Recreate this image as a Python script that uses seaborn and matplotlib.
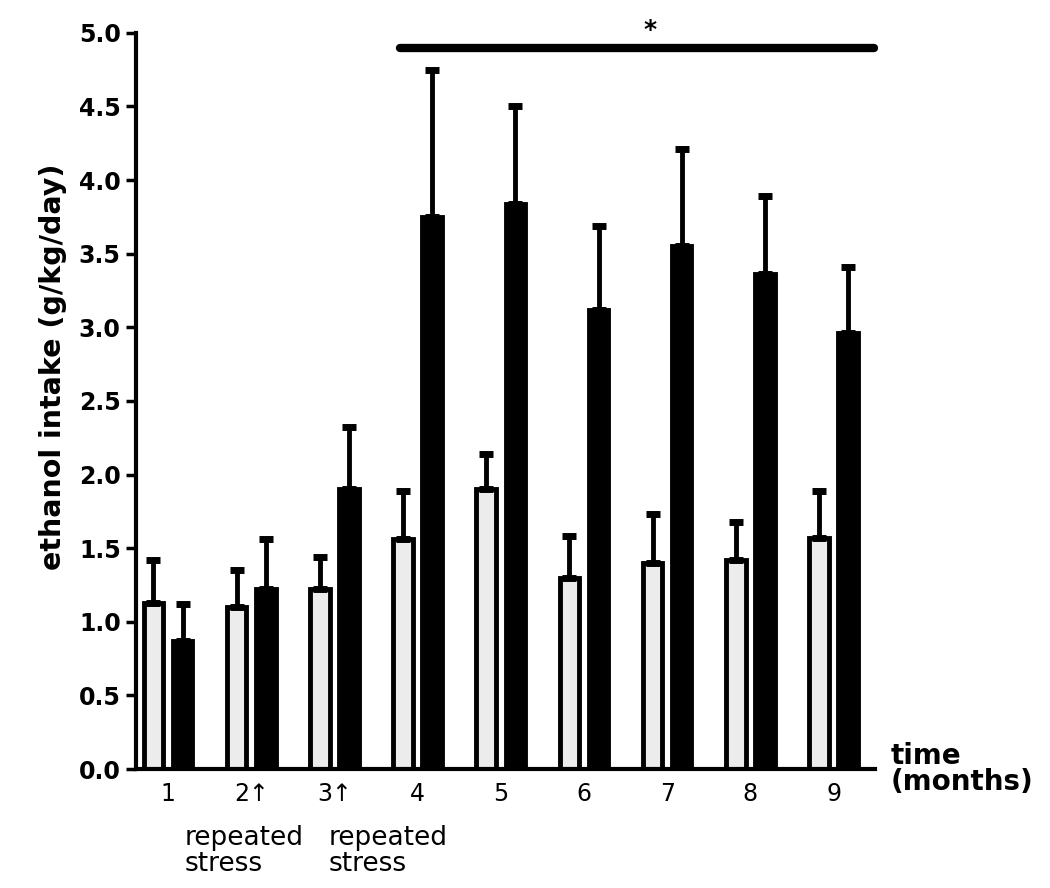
import matplotlib
matplotlib.use("Agg")
import matplotlib.pyplot as plt
import seaborn as sns
import pandas as pd
import numpy as np

months = ["1", "2\u2191", "3\u2191", "4", "5", "6", "7", "8", "9"]
control_mean = [1.13, 1.10, 1.22, 1.56, 1.90, 1.30, 1.40, 1.42, 1.57]
control_top = [1.42, 1.35, 1.44, 1.89, 2.14, 1.58, 1.73, 1.68, 1.89]
stress_mean = [0.87, 1.22, 1.90, 3.75, 3.84, 3.12, 3.55, 3.36, 2.96]
stress_top = [1.12, 1.56, 2.32, 4.75, 4.50, 3.69, 4.21, 3.89, 3.41]
groups = ["control", "stress"]
yticks = [0.0, 0.5, 1.0, 1.5, 2.0, 2.5, 3.0, 3.5, 4.0, 4.5, 5.0]

sns.set_style("white")
plt.rcParams['font.family'] = ['DejaVu Sans']
for k in ["text.color", "axes.labelcolor", "xtick.color", "ytick.color"]:
    plt.rcParams[k] = "black"

df = pd.DataFrame({
    "month": months * 2,
    "group": [groups[0]] * len(months) + [groups[1]] * len(months),
    "value": control_mean + stress_mean,
})

fig = plt.figure(figsize=(10.5, 8.88), dpi=100)
ax = fig.add_axes([0.1295, 0.134, 0.704, 0.829])

sns.barplot(data=df, x="month", y="value", hue="group", order=months,
            hue_order=groups, palette={"control": "#ececec", "stress": "black"},
            width=0.7, gap=0.33, errorbar=None, edgecolor="black",
            linewidth=3.5, legend=False, ax=ax)

tops = control_top + stress_top
means = control_mean + stress_mean
for p, m, t in zip(ax.patches[:len(means)], means, tops):
    cx = p.get_x() + p.get_width() / 2
    ax.errorbar([cx], [m], yerr=[[0], [t - m]], fmt="none", ecolor="black",
                elinewidth=3.5, capsize=5, capthick=5, zorder=1)

ax.set_ylim(0, 5.0)
ax.set_xlim(-0.385, 8.5)
ax.set_yticks(yticks)
ax.set_yticklabels([f"{v:.1f}" for v in yticks], fontsize=17, fontweight="bold")
ax.tick_params(axis="y", direction="out", length=7, width=2.5, left=True, pad=4)
ax.tick_params(axis="x", length=0, pad=9)
for lbl in ax.get_xticklabels():
    lbl.set_fontsize(17)
ax.set_xlabel("")
ax.set_ylabel("ethanol intake (g/kg/day)", fontsize=20.5, fontweight="bold")
ax.yaxis.set_label_coords(-0.093, 0.546)

for s in ["top", "right"]:
    ax.spines[s].set_visible(False)
for s in ["left", "bottom"]:
    ax.spines[s].set_linewidth(3)
    ax.spines[s].set_color("black")

# significance line and star
ax.plot([2.79, 8.48], [4.90, 4.90], color="black", lw=6, solid_capstyle="round",
        clip_on=False)
ax.text(5.8, 4.97, "*", ha="center", va="baseline", fontsize=18, fontweight="bold")

# annotations
ax.text(8.68, 0.0, "time\n(months)", ha="left", va="center", fontsize=20,
        fontweight="bold", linespacing=0.95, clip_on=False)
ax.text(0.2, -0.38, "repeated\nstress", ha="left", va="top", fontsize=19,
        linespacing=1.0, clip_on=False)
ax.text(1.93, -0.38, "repeated\nstress", ha="left", va="top", fontsize=19,
        linespacing=1.0, clip_on=False)

fig.savefig("out.png", dpi=100)
